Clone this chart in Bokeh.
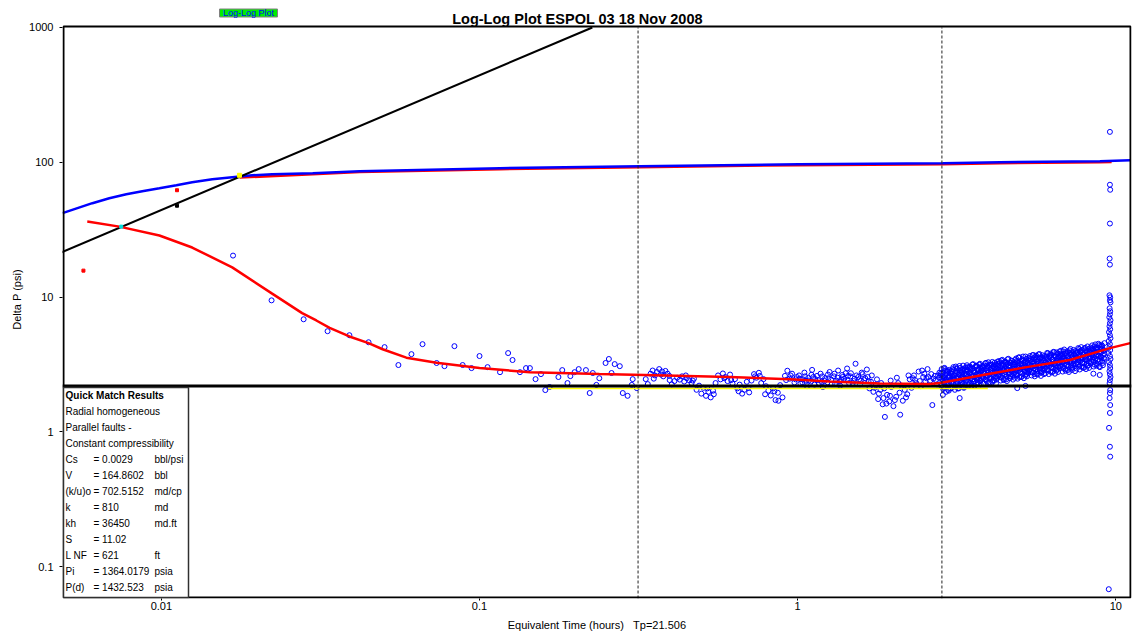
from bokeh.plotting import figure
from bokeh.models import (Range1d, FixedTicker, CustomJSTickFormatter, Label,
                          BoxAnnotation)
from bokeh.embed import file_html
from bokeh.resources import INLINE

FONT = "Liberation Sans"

# ---- axis ticks -----------------------------------------------------------
x_ticks = [0.01, 0.1, 1, 10]
y_ticks = [0.1, 1, 10, 100, 1000]

# ---- pressure change (data and model) -------------------------------------
press_t = [0.00489, 0.00607, 0.00686, 0.00776, 0.00871, 0.00986, 0.01115,
           0.0125, 0.01446, 0.0167, 0.0193, 0.0223, 0.0299, 0.042, 0.116,
           0.319, 1.01, 2.86, 4.32, 8.91, 11.1]
press_dp = [41.9, 49.7, 54.1, 57.9, 61.0, 64.1, 67.6, 71.1, 74.8, 77.4, 80.1,
            81.5, 82.9, 85.8, 90.3, 93.4, 96.6, 98.3, 100.0, 101.7, 103.5]
press_model_t = [0.0176, 0.0299, 0.042, 0.116, 0.319, 1.01, 2.86, 4.32, 8.91,
                 9.70]
press_model_dp = [77.0, 81.6, 84.5, 88.9, 92.0, 95.2, 96.8, 98.5, 100.2, 100.6]
press_pts_t = [0.00569, 0.0112]
press_pts_dp = [15.7, 62.0]

# ---- derivative model ------------------------------------------------------
deriv_model_t = [0.00585, 0.00738, 0.00986, 0.0125, 0.0167, 0.0223, 0.0277,
                 0.0307, 0.0338, 0.0390, 0.0448, 0.0496, 0.0589, 0.0733, 0.100,
                 0.144, 0.238, 0.330, 0.611, 0.944, 1.26, 1.81, 2.60, 2.80,
                 3.82, 5.25, 7.17, 9.58, 11.1]
deriv_model_dp = [36.3, 33.3, 28.6, 23.3, 16.6, 10.6, 7.6, 6.7, 5.9, 5.1,
                  4.55, 4.1, 3.55, 3.25, 2.97, 2.77, 2.68, 2.64, 2.55, 2.46,
                  2.36, 2.28, 2.26, 2.30, 2.64, 3.02, 3.41, 4.18, 4.55]

# ---- derivative data (t, dP') ---------------------------------------------
deriv_early = [(0.0168, 20.3), (0.0222, 9.45), (0.0280, 6.84), (0.0333, 5.58),
               (0.0390, 5.21), (0.0448, 4.62), (0.0503, 4.25), (0.0556, 3.13),
               (0.0611, 3.77), (0.0662, 4.47), (0.0733, 3.24), (0.0776, 3.07),
               (0.0834, 4.32), (0.0885, 3.13), (0.0944, 2.97), (0.100, 3.65),
               (0.106, 3.02), (0.116, 2.77), (0.123, 3.84), (0.127, 3.41),
               (0.134, 2.77), (0.140, 2.97), (0.144, 2.97), (0.150, 2.46),
               (0.156, 2.68), (0.161, 2.04), (0.166, 2.15), (0.177, 2.55),
               (0.182, 2.87), (0.189, 2.30), (0.193, 2.59), (0.199, 2.77),
               (0.205, 2.92), (0.216, 2.87), (0.222, 1.94), (0.227, 2.73),
               (0.233, 2.23), (0.238, 2.50), (0.249, 3.24), (0.255, 3.47),
               (0.260, 2.73), (0.266, 3.18), (0.276, 3.07), (0.282, 1.94),
               (0.292, 1.85), (0.301, 2.23), (0.303, 2.46), (0.312, 2.11),
               (0.333, 2.46), (0.338, 2.26)]

deriv_mid = [(0.345, 2.70), (0.350, 2.85), (0.356, 2.62), (0.361, 2.78),
             (0.367, 2.92), (0.372, 2.66), (0.378, 2.58), (0.384, 2.83),
             (0.390, 2.70), (0.396, 2.42), (0.402, 2.25), (0.410, 2.38),
             (0.418, 2.52), (0.426, 2.44), (0.433, 2.58), (0.440, 2.36),
             (0.448, 2.50), (0.456, 2.41), (0.464, 2.30), (0.472, 2.48),
             (0.481, 2.05), (0.490, 2.20), (0.498, 1.92), (0.506, 2.12),
             (0.515, 1.85), (0.524, 1.98), (0.533, 1.80), (0.542, 2.02),
             (0.552, 2.30), (0.562, 2.62), (0.572, 2.45), (0.582, 2.71),
             (0.592, 2.55), (0.602, 2.38), (0.613, 2.66), (0.624, 2.28),
             (0.635, 2.46), (0.646, 2.10), (0.657, 2.24), (0.669, 1.92),
             (0.680, 2.05), (0.692, 2.35), (0.704, 1.96), (0.716, 2.40),
             (0.729, 2.68), (0.742, 2.52), (0.755, 2.74), (0.768, 2.30),
             (0.781, 2.46), (0.795, 2.18), (0.809, 2.02), (0.823, 1.86),
             (0.837, 2.10), (0.852, 1.72), (0.866, 1.95), (0.881, 2.22),
             (0.896, 1.80), (0.912, 2.60), (0.928, 2.84), (0.944, 2.48),
             (0.960, 2.70), (0.977, 2.32), (0.994, 2.55),
             (0.353, 2.48), (0.375, 2.80), (0.395, 2.60), (0.445, 2.62),
             (0.468, 2.40), (0.520, 2.10), (0.545, 1.90), (0.588, 2.50),
             (0.618, 2.42), (0.652, 2.00), (0.700, 2.12), (0.735, 2.58),
             (0.760, 2.60), (0.790, 1.90), (0.845, 2.00), (0.870, 1.70),
             (0.920, 2.42), (0.950, 2.62), (0.985, 2.45),
             (1.01, 2.62), (1.02, 2.28), (1.04, 2.45), (1.05, 2.75), (1.07, 2.18),
             (1.08, 2.52), (1.10, 2.36), (1.11, 2.88), (1.13, 2.24), (1.15, 2.60),
             (1.16, 2.42), (1.18, 2.70), (1.20, 2.15), (1.22, 2.50), (1.24, 2.33),
             (1.26, 2.78), (1.28, 2.26), (1.30, 2.58), (1.32, 2.40), (1.34, 2.85),
             (1.36, 2.20), (1.38, 2.64), (1.40, 2.47), (1.43, 2.95), (1.45, 2.30),
             (1.47, 2.72), (1.50, 2.38), (1.52, 3.20), (1.55, 2.55), (1.57, 2.25),
             (1.60, 2.68), (1.62, 2.42), (1.65, 2.90), (1.68, 2.10), (1.70, 2.35),
             (1.73, 1.98), (1.76, 2.22), (1.79, 1.75), (1.82, 2.05), (1.85, 1.60),
             (1.88, 1.29), (1.91, 1.88), (1.94, 1.68), (1.97, 2.15), (2.00, 1.55),
             (2.04, 1.82), (2.07, 2.30), (2.10, 1.34), (2.14, 1.70), (2.17, 2.05),
             (2.21, 1.90), (2.25, 2.45), (2.28, 2.12), (2.32, 2.62), (2.36, 2.30),
             (2.40, 2.80), (2.44, 2.18), (2.48, 2.55), (2.52, 2.36), (2.56, 2.92),
             (2.61, 2.40), (2.65, 1.58), (2.70, 2.60), (2.74, 2.25), (2.79, 2.75),
             (1.06, 2.40), (1.12, 2.55), (1.19, 2.35), (1.25, 2.50), (1.31, 2.28),
             (1.37, 2.45), (1.44, 2.60), (1.51, 2.48), (1.58, 2.40), (1.66, 2.55),
             (1.80, 1.92), (1.86, 1.78), (1.90, 1.62), (1.95, 1.85), (2.02, 1.72),
             (2.09, 1.95), (2.19, 1.80), (2.30, 2.50), (2.42, 2.38), (2.50, 2.70),
             (2.58, 2.55), (2.67, 2.48), (2.76, 2.62),
             (1.015, 2.48), (1.035, 2.32), (1.055, 2.58), (1.085, 2.40),
             (1.105, 2.65), (1.135, 2.46), (1.165, 2.30), (1.195, 2.58),
             (1.215, 2.38), (1.245, 2.66), (1.275, 2.44), (1.305, 2.70),
             (1.335, 2.52), (1.355, 2.36), (1.385, 2.55), (1.415, 2.72),
             (1.435, 2.42), (1.465, 2.58), (1.49, 2.30), (1.53, 2.62),
             (1.56, 2.45), (1.59, 2.75), (1.63, 2.50), (1.67, 2.38),
             (1.71, 2.62), (1.745, 2.12), (1.775, 2.45), (1.83, 2.30),
             (1.87, 2.10), (1.96, 2.40), (2.05, 2.52), (2.12, 2.20),
             (2.23, 2.62), (2.34, 2.42), (2.46, 2.85), (2.54, 2.50),
             (2.63, 2.68), (2.72, 2.42), (2.78, 2.52)]

late_t = [2.82, 2.85, 2.88, 2.91, 2.94, 2.97, 3.00,
          3.04, 3.07, 3.10, 3.14, 3.17, 3.21, 3.24, 3.28, 3.31, 3.35,
          3.39, 3.42, 3.46, 3.50, 3.54, 3.58, 3.62, 3.66, 3.70, 3.74, 3.78,
          3.82, 3.86, 3.91, 3.95, 4.00, 4.04, 4.09, 4.13, 4.18, 4.22,
          4.27, 4.32, 4.37, 4.42, 4.47, 4.52, 4.57, 4.62, 4.67, 4.72,
          4.78, 4.83, 4.89, 4.94, 5.00, 5.05, 5.11, 5.17, 5.23, 5.28,
          5.34, 5.40, 5.47, 5.53, 5.59, 5.65, 5.72, 5.78, 5.85, 5.91,
          5.98, 6.05, 6.12, 6.19, 6.26, 6.33, 6.40, 6.47, 6.54, 6.62,
          6.69, 6.77, 6.84, 6.92, 7.00, 7.08, 7.16, 7.24, 7.32, 7.40,
          7.49, 7.57, 7.66, 7.74, 7.83, 7.92, 8.01, 8.10, 8.19, 8.28,
          8.38, 8.47, 8.57, 8.66, 8.76, 8.86, 8.96, 9.06, 9.16]
late_upper = [2.72, 2.58, 2.95, 2.66, 2.80, 2.54, 2.88,
              2.70, 2.92, 2.62, 3.05, 2.78, 2.66, 2.98, 2.74, 3.10, 2.85,
              2.80, 3.02, 2.72, 2.95, 3.15, 2.84, 2.76, 3.08, 2.90, 3.20, 2.86,
              3.05, 2.92, 3.25, 2.98, 3.12, 2.88, 3.30, 3.02, 3.16, 2.95,
              3.20, 3.06, 3.38, 3.12, 2.98, 3.28, 3.45, 3.10, 3.22, 3.35,
              3.15, 3.42, 3.28, 3.55, 3.20, 3.38, 3.62, 3.30, 3.48, 3.25,
              3.52, 3.36, 3.70, 3.44, 3.60, 3.32, 3.75, 3.48, 3.58, 3.40,
              3.65, 3.50, 3.82, 3.58, 3.72, 3.46, 3.90, 3.62, 3.78, 3.55,
              3.80, 3.62, 3.95, 3.70, 3.86, 3.66, 4.02, 3.76, 3.92, 3.72,
              3.98, 3.84, 4.12, 3.90, 4.05, 3.82, 4.20, 3.95, 4.10, 3.88,
              4.15, 4.02, 4.30, 4.08, 4.22, 4.40, 4.12, 4.35, 4.05]
late_lower = [2.20, 2.35, 2.12, 2.42, 2.28, 2.05, 2.38,
              2.30, 2.18, 2.45, 2.25, 2.52, 2.10, 2.40, 2.32, 2.48, 2.22,
              2.40, 2.55, 2.28, 2.62, 2.45, 2.35, 2.58, 2.42, 2.68, 2.38, 2.50,
              2.55, 2.70, 2.42, 2.62, 2.48, 2.75, 2.35, 2.66, 2.52, 2.80,
              2.60, 2.78, 2.52, 2.85, 2.68, 2.45, 2.90, 2.72, 2.58, 2.82,
              2.70, 2.88, 2.62, 2.95, 2.78, 2.55, 3.00, 2.82, 2.68, 2.92,
              2.85, 3.02, 2.75, 3.10, 2.92, 2.70, 3.05, 2.88, 2.78, 3.12,
              2.95, 3.15, 2.85, 3.22, 3.02, 2.80, 3.18, 2.98, 2.90, 3.25,
              3.05, 3.28, 2.95, 3.35, 3.12, 2.88, 3.30, 3.08, 3.00, 3.38,
              3.18, 3.42, 3.05, 3.50, 3.25, 2.98, 3.45, 3.20, 3.10, 3.55,
              3.30, 3.58, 3.15, 3.65, 3.40, 3.05, 3.62, 3.35, 3.52]
late_hi2 = [2.62, 2.75, 2.55, 2.85, 2.68, 2.78, 2.60,
            2.82, 2.68, 2.88, 2.74, 2.95, 2.70, 2.84, 2.78, 2.92, 2.72,
            2.92, 2.85, 3.00, 2.88, 2.96, 2.82, 3.04, 2.90, 2.86, 2.98, 2.92,
            2.98, 3.10, 2.94, 3.06, 3.00, 3.14, 2.96, 3.08, 3.02, 3.12,
            3.12, 3.24, 3.08, 3.18, 3.30, 3.14, 3.22, 3.06, 3.26, 3.16,
            3.28, 3.20, 3.36, 3.24, 3.32, 3.18, 3.40, 3.26, 3.34, 3.22,
            3.38, 3.46, 3.32, 3.52, 3.40, 3.48, 3.36, 3.55, 3.42, 3.50,
            3.52, 3.62, 3.48, 3.66, 3.56, 3.44, 3.68, 3.58, 3.50, 3.64,
            3.66, 3.75, 3.60, 3.82, 3.70, 3.58, 3.85, 3.72, 3.64, 3.78,
            3.82, 3.92, 3.76, 3.98, 3.86, 3.74, 4.02, 3.88, 3.80, 3.95,
            4.02, 4.12, 3.96, 4.20, 4.06, 3.94, 4.25, 4.10, 4.00]

late_t2 = [2.835, 2.865, 2.895, 2.925, 2.955, 2.985, 3.02,
           3.055, 3.085, 3.12, 3.155, 3.19, 3.225, 3.26, 3.295, 3.33, 3.37,
           3.405, 3.44, 3.48, 3.52, 3.56, 3.60, 3.64, 3.68, 3.72, 3.76, 3.80,
           3.84, 3.885, 3.93, 3.975, 4.02, 4.065, 4.11, 4.155, 4.20, 4.245,
           4.295, 4.345, 4.395, 4.445, 4.495, 4.545, 4.595, 4.645, 4.695, 4.75,
           4.805, 4.86, 4.915, 4.97, 5.025, 5.08, 5.14, 5.20, 5.255, 5.31,
           5.37, 5.435, 5.50, 5.56, 5.62, 5.685, 5.75, 5.815, 5.88, 5.945,
           6.015, 6.085, 6.155, 6.225, 6.295, 6.365, 6.435, 6.505, 6.58, 6.655,
           6.73, 6.805, 6.88, 6.96, 7.04, 7.12, 7.20, 7.28, 7.36, 7.445,
           7.53, 7.615, 7.70, 7.785, 7.875, 7.965, 8.055, 8.145, 8.235, 8.33,
           8.425, 8.52, 8.615, 8.71, 8.81, 8.91, 9.01, 9.11, 9.21]
late_mid = [2.48, 2.40, 2.55, 2.45, 2.36, 2.52, 2.44,
            2.58, 2.50, 2.62, 2.47, 2.56, 2.66, 2.52, 2.60, 2.49, 2.63,
            2.68, 2.60, 2.72, 2.64, 2.58, 2.75, 2.66, 2.70, 2.62, 2.78, 2.65,
            2.78, 2.70, 2.85, 2.74, 2.68, 2.82, 2.76, 2.88, 2.72, 2.80,
            2.90, 2.82, 2.96, 2.85, 2.78, 2.94, 2.88, 3.00, 2.84, 2.92,
            3.02, 2.95, 3.10, 2.98, 2.92, 3.06, 3.00, 3.12, 2.96, 3.05,
            3.15, 3.08, 3.22, 3.10, 3.04, 3.18, 3.12, 3.25, 3.08, 3.16,
            3.28, 3.20, 3.35, 3.24, 3.18, 3.32, 3.26, 3.38, 3.22, 3.30,
            3.42, 3.34, 3.50, 3.38, 3.30, 3.46, 3.40, 3.52, 3.36, 3.44,
            3.58, 3.50, 3.66, 3.54, 3.46, 3.62, 3.56, 3.70, 3.52, 3.60,
            3.78, 3.70, 3.86, 3.74, 3.66, 3.82, 3.90, 3.72, 3.80]
late_wide = [2.92, 2.08, 2.98, 2.15, 2.86, 2.02, 2.75,
             2.12, 3.02, 2.18, 2.95, 2.10, 3.08, 2.22, 2.90, 2.15, 3.00,
             3.12, 2.22, 3.05, 2.28, 3.18, 2.20, 3.10, 2.32, 3.15, 2.25, 3.08,
             2.30, 3.22, 2.36, 3.28, 2.32, 3.15, 2.40, 3.25, 2.28, 3.32,
             3.35, 2.40, 3.42, 2.46, 3.30, 2.38, 3.48, 2.50, 3.38, 2.44,
             2.52, 3.50, 2.48, 3.58, 2.56, 3.45, 2.50, 3.62, 2.58, 3.52,
             3.65, 2.62, 3.72, 2.58, 3.68, 2.66, 3.78, 2.60, 3.70, 2.68,
             2.72, 3.85, 2.68, 3.80, 2.76, 3.92, 2.70, 3.88, 2.78, 3.95,
             4.00, 2.80, 4.08, 2.84, 3.96, 2.78, 4.12, 2.88, 4.05, 2.82,
             2.95, 4.18, 2.90, 4.25, 3.00, 4.15, 2.92, 4.30, 2.98, 4.22,
             4.38, 3.05, 4.45, 3.10, 4.50, 3.02, 4.42, 3.12, 4.55]
late_lo2 = [2.25, 2.15, 2.32, 1.98, 2.22, 2.30, 2.10,
            2.35, 2.26, 2.05, 2.38, 2.30, 2.20, 2.42, 2.28, 2.12, 2.36,
            2.44, 2.35, 2.50, 2.20, 2.46, 2.38, 2.52, 2.30, 2.48, 2.40, 2.55,
            2.52, 2.45, 2.60, 2.32, 2.56, 2.48, 2.62, 2.40, 2.58, 2.50,
            2.62, 2.55, 2.70, 2.42, 2.66, 2.58, 2.74, 2.50, 2.68, 2.60,
            2.75, 2.66, 2.82, 2.55, 2.78, 2.70, 2.86, 2.62, 2.80, 2.72,
            2.88, 2.78, 2.95, 2.68, 2.90, 2.82, 2.98, 2.74, 2.92, 2.85,
            3.00, 2.90, 3.08, 2.80, 3.02, 2.94, 3.12, 2.85, 3.05, 2.96,
            3.12, 3.02, 3.20, 2.92, 3.15, 3.06, 3.25, 2.98, 3.18, 3.08,
            3.26, 3.15, 3.35, 3.05, 3.30, 3.20, 3.40, 3.10, 3.32, 3.22,
            3.42, 3.30, 3.50, 3.20, 3.45, 3.35, 3.55, 3.25, 3.48]
deriv_late_extra = [(2.86, 1.88), (3.23, 1.78), (4.90, 2.11), (5.20, 2.19),
                    (8.50, 2.70), (8.90, 2.64)]

deriv_end = [(9.58, 168), (9.58, 68.1), (9.60, 62.5), (9.58, 35.1), (9.56, 19.3),
             (9.58, 17.4), (9.55, 10.3), (9.60, 9.95), (9.58, 9.46), (9.62, 9.14),
             (9.56, 8.25), (9.60, 7.84), (9.58, 7.45), (9.54, 7.08), (9.62, 6.73),
             (9.58, 6.39), (9.55, 6.07), (9.60, 5.77), (9.52, 5.49), (9.58, 5.21),
             (9.62, 4.95), (9.50, 4.71), (9.58, 4.47), (9.55, 4.25), (9.60, 4.04),
             (9.48, 3.84), (9.58, 3.65), (9.62, 3.47), (9.52, 3.29), (9.58, 3.13),
             (9.60, 2.97), (9.55, 2.82), (9.58, 2.68), (9.62, 2.55), (9.58, 2.42),
             (9.56, 2.30), (9.60, 2.04), (9.58, 1.94), (9.56, 1.78), (9.60, 1.58),
             (9.58, 1.38), (9.52, 1.07), (9.58, 0.775), (9.60, 0.654), (9.50, 0.068)]

# ---- straight-line analysis ------------------------------------------------
storage_coef = 4420.0            # unit-slope line: dP = C * t
storage_t0 = 0.0045
radial_dp = 2.19                 # radial-flow stabilisation level
fit_t = [0.164, 3.96]            # points selected for the radial fit
fit_dp = [2.10, 2.10]
boundary_t = [0.315, 2.84]       # flow-regime markers

# ---- quick match table -----------------------------------------------------
match_header = ["Quick Match Results", "Radial homogeneous", "Parallel faults -",
                "Constant compressibility"]
match_rows = [("Cs", "= 0.0029", "bbl/psi"), ("V", "= 164.8602", "bbl"),
              ("(k/u)o", "= 702.5152", "md/cp"), ("k", "= 810", "md"),
              ("kh", "= 36450", "md.ft"), ("S", "= 11.02", ""),
              ("L NF", "= 621", "ft"), ("Pi", "= 1364.0179", "psia"),
              ("P(d)", "= 1432.523", "psia")]

# ---------------------------------------------------------------------------
# The frame reaches the top of the canvas so the heading can sit inside it;
# the plotted box is closed at the 1000 psi decade.
y_top = y_ticks[-1]
p = figure(width=1138, height=633, x_axis_type="log", y_axis_type="log",
           x_range=Range1d(0.00489, 11.2), y_range=Range1d(0.058, 1585),
           output_backend="svg", toolbar_location=None, title=None,
           min_border_left=62, min_border_right=7, min_border_top=0,
           min_border_bottom=34)
p.background_fill_color = "white"
p.border_fill_color = "white"
p.outline_line_color = None
p.xgrid.visible = False
p.ygrid.visible = False

fmt = "return tick.toString();"
p.xaxis.ticker = FixedTicker(ticks=x_ticks)
p.yaxis.ticker = FixedTicker(ticks=y_ticks)
p.xaxis.formatter = CustomJSTickFormatter(code=fmt)
p.yaxis.formatter = CustomJSTickFormatter(code=fmt)
for ax in (p.xaxis, p.yaxis):
    ax.axis_line_color = None
    ax.minor_tick_line_color = None
    ax.major_tick_line_color = "black"
    ax.major_tick_in = 0
    ax.major_label_text_font = FONT
    ax.major_label_text_font_size = "11px"
    ax.major_label_text_color = "black"
    ax.axis_label_text_font = FONT
    ax.axis_label_text_font_size = "11px"
    ax.axis_label_text_font_style = "normal"
    ax.axis_label_text_color = "black"
p.xaxis.major_tick_out = 2
p.xaxis.major_label_standoff = 1
p.xaxis.axis_label = "Equivalent Time (hours)\u00a0\u00a0\u00a0Tp=21.506"
p.xaxis.axis_label_standoff = 6
p.yaxis.major_tick_out = 3
p.yaxis.major_label_standoff = 6
p.yaxis.axis_label = "Delta P (psi)"
p.yaxis.axis_label_standoff = 3

# pressure curves
p.line(press_model_t, press_model_dp, line_color="#ff0000", line_width=2.5)
p.line(press_t, press_dp, line_color="#0000ff", line_width=2.5)
p.scatter(press_pts_t, press_pts_dp, marker="square", size=3, color="#ff0000")

# unit-slope (wellbore storage) line, stopped at the top of the box
storage_t = [storage_t0, y_top / storage_coef]
p.line(storage_t, [storage_coef * t for t in storage_t], line_color="black",
       line_width=2)

# derivative data
deriv_pts = (deriv_early + deriv_mid +
             list(zip(late_t, late_upper)) + list(zip(late_t, late_lower)) +
             list(zip(late_t, late_hi2)) + list(zip(late_t2, late_mid)) +
             list(zip(late_t2, late_wide)) + list(zip(late_t2, late_lo2)) +
             deriv_late_extra + deriv_end)
p.scatter([t for t, _ in deriv_pts], [d for _, d in deriv_pts], marker="circle",
          size=5, fill_color=None, line_color="#0000ff", line_width=1)

# radial flow fit
p.line(fit_t, fit_dp, line_color="#ffff00", line_width=1.5)
p.line([p.x_range.start, p.x_range.end], [radial_dp, radial_dp],
       line_color="black", line_width=3)

# derivative model
p.line(deriv_model_t, deriv_model_dp, line_color="#ff0000", line_width=2.5)

# intersection markers
p.scatter([0.00748], [33.3], marker="square", size=3, color="#00e0e0")
p.scatter([0.0176], [80.0], marker="square", size=4, color="#ffff00")
p.scatter([0.0112], [47.6], marker="square", size=3, color="black")

# flow-regime markers
p.segment(x0=boundary_t, y0=[p.y_range.start] * len(boundary_t),
          x1=boundary_t, y1=[y_top] * len(boundary_t),
          line_color="#202020", line_width=1, line_dash="3 2")

# plot box (frame-relative pixels; top edge at the 1000 psi decade)
p.add_layout(BoxAnnotation(left=1, right=1068, bottom=1, top=572,
                           left_units="screen", right_units="screen",
                           bottom_units="screen", top_units="screen",
                           fill_color=None, fill_alpha=0,
                           line_color="black", line_alpha=1.0, line_width=2))

# quick match results box
p.add_layout(BoxAnnotation(left=1, right=126, bottom=1, top=211,
                           left_units="screen", right_units="screen",
                           bottom_units="screen", top_units="screen",
                           fill_color="white", fill_alpha=1.0,
                           line_color="#303030", line_alpha=1.0,
                           line_width=1.5))
row_h = 16
y0 = 203
for i, txt in enumerate(match_header):
    p.add_layout(Label(x=3, y=y0 - i * row_h, x_units="screen", y_units="screen",
                       text=txt, text_font=FONT, text_font_size="10px",
                       text_font_style="bold" if i == 0 else "normal",
                       text_baseline="middle", text_color="black"))
for j, (name, val, unit) in enumerate(match_rows):
    yy = y0 - (j + len(match_header)) * row_h
    for xx, txt in ((3, name), (31, val), (92, unit)):
        if txt:
            p.add_layout(Label(x=xx, y=yy, x_units="screen", y_units="screen",
                               text=txt, text_font=FONT, text_font_size="10px",
                               text_baseline="middle", text_color="black"))

# heading and view tag
p.add_layout(Label(x=515, y=579.5, x_units="screen", y_units="screen",
                   text="Log-Log Plot ESPOL 03 18 Nov 2008", text_font=FONT,
                   text_font_size="14.5px", text_font_style="bold",
                   text_align="center", text_baseline="alphabetic",
                   text_color="black"))
p.add_layout(BoxAnnotation(left=157, right=215, bottom=581.5, top=589.5,
                           left_units="screen", right_units="screen",
                           bottom_units="screen", top_units="screen",
                           fill_color="#00ee00", fill_alpha=1.0,
                           line_color="#808080", line_alpha=1.0, line_width=1))
p.add_layout(Label(x=186, y=585.5, x_units="screen", y_units="screen",
                   text="Log-Log Plot", text_font=FONT, text_font_size="9px",
                   text_align="center", text_baseline="middle",
                   text_color="#0000ff"))

open("out.html", "w").write(file_html(p, INLINE))
